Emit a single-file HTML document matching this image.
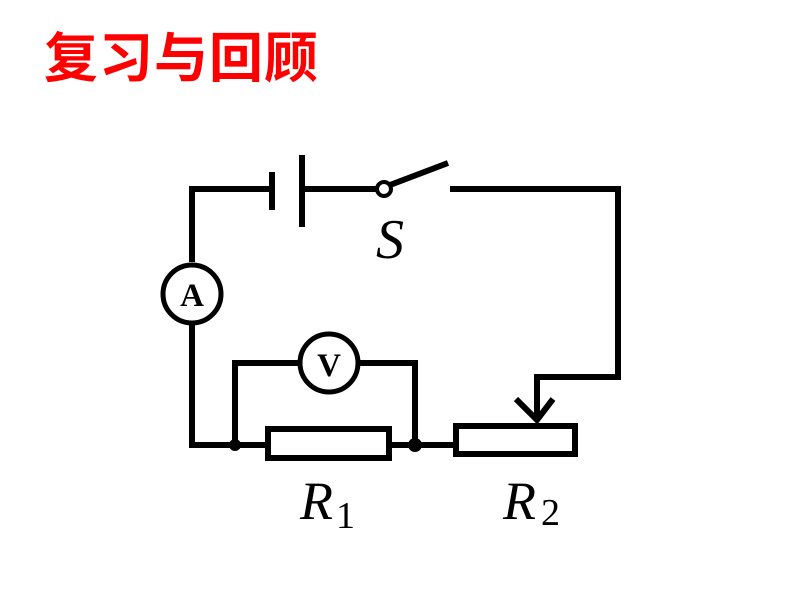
<!DOCTYPE html>
<html><head><meta charset="utf-8"><style>
html,body{margin:0;padding:0;background:#fff;width:800px;height:600px;overflow:hidden;position:relative}
.t{position:absolute;left:44px;top:26px;font-family:"Liberation Sans","Noto Sans CJK SC",sans-serif;font-weight:bold;font-size:54px;color:#f00;letter-spacing:1px;line-height:66px}
svg{position:absolute;left:0;top:0}
</style></head><body>
<div class="t">复习与回顾</div>
<svg width="800" height="600" viewBox="0 0 800 600">
<g fill="none" stroke="#000" stroke-width="6">
<polyline points="272,189 192,189 192,262"/>
<line x1="192" y1="325" x2="192" y2="445"/>
<line x1="189" y1="445" x2="265" y2="445"/>
<line x1="272" y1="172" x2="272" y2="210"/>
<line x1="302" y1="155" x2="302" y2="227"/>
<line x1="302" y1="189" x2="377" y2="189"/>
<line x1="390" y1="185" x2="448" y2="163"/>
<polyline points="450,189 618,189 618,377 537,377 537,420"/>
<polyline points="516,399 537,420 553,399"/>
<rect x="268" y="429" width="121" height="29"/>
<rect x="456" y="426" width="119" height="28"/>
<line x1="389" y1="445" x2="456" y2="445"/>
<polyline points="235,445 235,363 300,363"/>
<polyline points="358,363 415,363 415,445"/>
</g>
<circle cx="384" cy="189" r="7" fill="#fff" stroke="#000" stroke-width="4"/>
<circle cx="192" cy="294" r="29" fill="#fff" stroke="#000" stroke-width="5"/>
<circle cx="329" cy="363" r="29" fill="#fff" stroke="#000" stroke-width="5"/>
<circle cx="235" cy="445" r="6" fill="#000"/>
<circle cx="415" cy="445" r="7" fill="#000"/>
<g font-family="Liberation Serif,serif" fill="#000">
<text x="192" y="306" font-size="33" font-weight="bold" text-anchor="middle">A</text>
<text x="329" y="376" font-size="33" font-weight="bold" text-anchor="middle">V</text>
<text x="376" y="258" font-size="56" font-style="italic">S</text>
<text x="300" y="519" font-size="54" font-style="italic">R</text>
<text x="336" y="528" font-size="38">1</text>
<text x="503" y="519" font-size="54" font-style="italic">R</text>
<text x="541" y="525" font-size="38">2</text>
</g>
</svg>
</body></html>
